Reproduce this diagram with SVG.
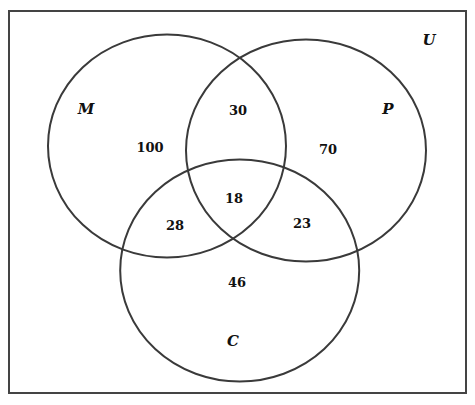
<svg xmlns="http://www.w3.org/2000/svg" width="475" height="405" viewBox="0 0 475 405">
<style>
.set{fill:none;stroke:#3a3a3a;stroke-width:2}
.n{font-family:"DejaVu Serif",serif;font-weight:bold;font-size:13px;fill:#111;text-anchor:middle}
.l{font-family:"DejaVu Serif",serif;font-weight:bold;font-style:italic;font-size:15px;fill:#111;text-anchor:middle}
</style>
<rect width="475" height="405" fill="#fff"/>
<g id="universe">
<rect x="9" y="11" width="457" height="382" fill="none" stroke="#444" stroke-width="2"/>
<text class="l" x="429" y="45">U</text>
</g>
<g id="setM">
<ellipse class="set" cx="167" cy="146" rx="119" ry="111.5"/>
<text class="l" x="86" y="114">M</text>
</g>
<g id="setP">
<ellipse class="set" cx="306" cy="150.5" rx="120" ry="111"/>
<text class="l" x="388" y="114">P</text>
</g>
<g id="setC">
<ellipse class="set" cx="239.7" cy="270.5" rx="119.5" ry="111"/>
<text class="l" x="233" y="346">C</text>
</g>
<g id="regions">
<text class="n" x="150" y="152">100</text>
<text class="n" x="238" y="115">30</text>
<text class="n" x="328" y="154">70</text>
<text class="n" x="234" y="203">18</text>
<text class="n" x="175" y="230">28</text>
<text class="n" x="302" y="228">23</text>
<text class="n" x="237" y="287">46</text>
</g>
</svg>
